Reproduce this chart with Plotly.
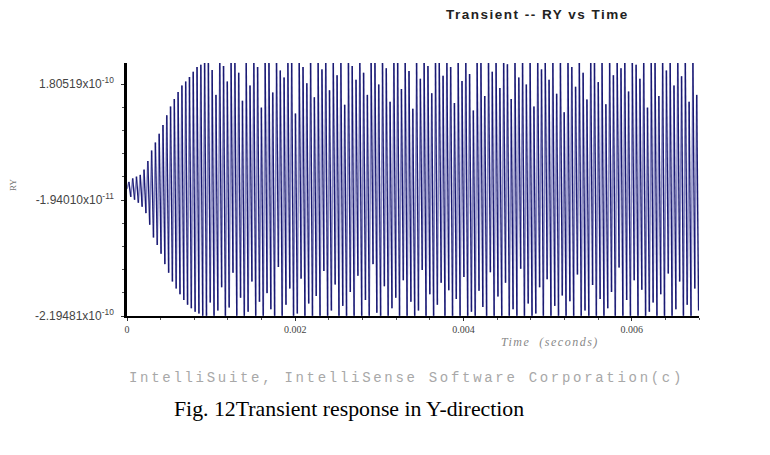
import plotly.graph_objects as go

# ---- data (RY in units of 1e-10) ----
TIME_STEP = 2.25e-5  # seconds between plotted samples
ry_growth = [
    0.00, 0.12, -0.14, 0.18, -0.19, 0.21, -0.24, 0.24, -0.31, 0.33,
    -0.42, 0.48, -0.62, 0.66, -0.84, 0.80, -0.97, 0.95, -1.12, 1.10,
    -1.30, 1.27, -1.45, 1.42, -1.60, 1.55, -1.72, 1.67, -1.82, 1.78,
    -1.92, 1.85, -2.00, 1.93, -2.06, 2.02, -2.12, 2.10, -2.15, 2.14,
    -2.19,
]
ry_steady = [
    2.17, -2.19, 2.17, -1.96, 2.05, -2.19, 1.62, -2.10, 2.17, -1.70,
    2.12, -2.19, 1.85, -2.05, 2.17, -1.45, 2.17, -2.19, 2.00, -1.88,
    1.52, -2.19, 2.17, -2.12, 1.78, -1.60, 2.17, -2.19, 2.10, -1.95,
    1.40, -2.19, 2.17, -1.80, 2.17, -2.08, 1.66, -2.19, 2.17, -1.35,
    2.04, -2.19, 1.92, -2.00, 2.17, -1.72, 2.17, -2.19, 1.30, -2.15,
    2.17, -1.55, 2.10, -2.19, 1.82, -1.98, 2.17, -2.19, 1.58, -1.85,
    2.17, -2.19, 2.06, -1.42, 2.17, -2.19, 1.70, -2.10, 2.17, -1.65,
    1.96, -2.19, 2.17, -2.02, 1.45, -2.19, 2.17, -1.78, 2.12, -2.19,
    1.88, -1.50, 2.17, -2.19, 2.00, -1.92, 1.62, -2.19, 2.17, -1.30,
    2.17, -2.14, 1.80, -2.19, 2.17, -1.68, 2.08, -2.19, 1.50, -2.06,
    2.17, -1.88, 2.17, -2.19, 1.72, -1.58, 2.17, -2.19, 2.03, -1.95,
    1.38, -2.19, 2.17, -2.10, 1.90, -1.40, 2.17, -2.19, 2.12, -1.82,
    1.65, -2.19, 2.17, -2.00, 2.17, -1.62, 1.95, -2.19, 2.17, -1.75,
    2.10, -2.19, 1.48, -1.90, 2.17, -2.19, 1.86, -1.52, 2.17, -2.19,
    1.98, -2.12, 1.35, -2.19, 2.17, -1.76, 2.17, -2.04, 1.60, -2.19,
    2.17, -1.44, 2.02, -2.19, 2.17, -1.86, 1.74, -2.19, 2.17, -1.62,
    2.15, -2.19, 1.55, -2.08, 2.17, -2.19, 1.92, -1.38, 2.17, -2.19,
    1.80, -1.98, 2.17, -2.19, 1.42, -2.15, 2.17, -1.70, 2.06, -2.19,
    2.17, -1.56, 1.88, -2.19, 2.17, -2.02, 1.64, -2.19, 2.17, -1.84,
    1.32, -2.19, 2.17, -1.94, 2.10, -2.19, 1.76, -1.48, 2.17, -2.19,
    2.00, -2.10, 1.54, -2.19, 2.17, -1.66, 2.17, -2.19, 1.84, -1.90,
    2.17, -2.19, 1.46, -2.06, 2.17, -1.78, 1.96, -2.19, 2.17, -1.36,
    2.08, -2.19, 2.17, -1.92, 1.68, -2.19, 2.17, -1.58, 2.14, -2.19,
    1.90, -1.74, 2.17, -2.19, 1.40, -2.12, 2.17, -1.96, 2.17, -2.19,
    1.60, -1.82, 2.17, -2.19, 2.04, -1.46, 2.17, -2.19, 1.78, -2.08,
    2.17, -1.60, 1.94, -2.19, 2.17, -2.00, 1.50, -2.19, 2.17, -1.72,
    1.62, -2.10,
]
ry_values = ry_growth + ry_steady
times = [i * TIME_STEP for i in range(len(ry_values))]

y_tick_vals = [-2.19481, -0.19401, 1.80519]
y_tick_text = ["-2.19481x10<sup>-10</sup>", "-1.94010x10<sup>-11</sup>", "1.80519x10<sup>-10</sup>"]
x_tick_vals = [0, 0.002, 0.004, 0.006]
x_tick_text = ["0", "0.002", "0.004", "0.006"]

# split the polyline into falling and rising strokes (two shades)
fall_x, fall_y, rise_x, rise_y = [], [], [], []
for i in range(len(ry_values) - 1):
    seg_x = [times[i], times[i + 1], None]
    seg_y = [ry_values[i], ry_values[i + 1], None]
    if ry_values[i + 1] < ry_values[i]:
        fall_x += seg_x; fall_y += seg_y
    else:
        rise_x += seg_x; rise_y += seg_y

fig = go.Figure()
fig.add_trace(go.Scatter(x=rise_x, y=rise_y, mode="lines",
                         line=dict(color="#8585c2", width=1.5), hoverinfo="skip"))
fig.add_trace(go.Scatter(x=fall_x, y=fall_y, mode="lines",
                         line=dict(color="#1a1a72", width=1.4), hoverinfo="skip"))

PAGE_OFF = 8            # default body margin of the html page
L, T, PW, PH = 127, 63, 572, 253   # plot area in screen pixels
W, H = 770, 455

def px(x):
    return (x - L) / PW

def py(y):
    return (T + PH - y) / PH

def note(text, x, y, **font):
    return dict(text=text, x=px(x), y=py(y), xref="paper", yref="paper",
                xanchor="center", yanchor="middle", showarrow=False, font=font)

fig.update_layout(
    width=W, height=H,
    margin=dict(l=L - PAGE_OFF, r=W - (L - PAGE_OFF) - PW, t=T - PAGE_OFF, b=H - (T - PAGE_OFF) - PH, pad=0),
    paper_bgcolor="white", plot_bgcolor="white",
    showlegend=False,
    xaxis=dict(range=[0, 0.0068], tickmode="array", tickvals=x_tick_vals, ticktext=x_tick_text,
               showgrid=False, zeroline=False, showline=True, linecolor="black", linewidth=2,
               ticks="outside", ticklen=3, tickcolor="#333",
               minor=dict(tickmode="linear", tick0=0, dtick=0.0004, ticks="outside", ticklen=2, tickcolor="#555"),
               tickfont=dict(family="Liberation Serif", size=10, color="#444")),
    yaxis=dict(range=[-2.19481, 2.17], tickmode="array", tickvals=y_tick_vals, ticktext=y_tick_text,
               showgrid=False, zeroline=False, showline=True, linecolor="black", linewidth=2.5,
               ticks="outside", ticklen=3, tickcolor="#333",
               minor=dict(tickmode="linear", tick0=-2.19481, dtick=0.4, ticks="outside", ticklen=2, tickcolor="#555"),
               tickfont=dict(family="Liberation Sans", size=12, color="#444"), ticklabelstandoff=5),
    annotations=[
        note('<span style="letter-spacing:1.5px"><b>Transient -- RY vs Time</b></span>', 537, 15,
             family="Liberation Sans", size=13.5, color="#222"),
        dict(note("RY", 13, 185, family="Liberation Serif", size=9, color="#777"), textangle=-90),
        note('<span style="letter-spacing:1.5px"><i>Time  (seconds)</i></span>', 550, 342,
             family="Liberation Serif", size=12, color="#888"),
        note('<span style="letter-spacing:2.7px">IntelliSuite, IntelliSense Software Corporation(c)</span>', 406, 378,
             family="Liberation Mono", size=14, color="#a8a8a8"),
        note("Fig. 12Transient response in Y-direction", 348.5, 409,
             family="Liberation Serif", size=21.8, color="black"),
    ],
)

fig.write_html("out.html")
